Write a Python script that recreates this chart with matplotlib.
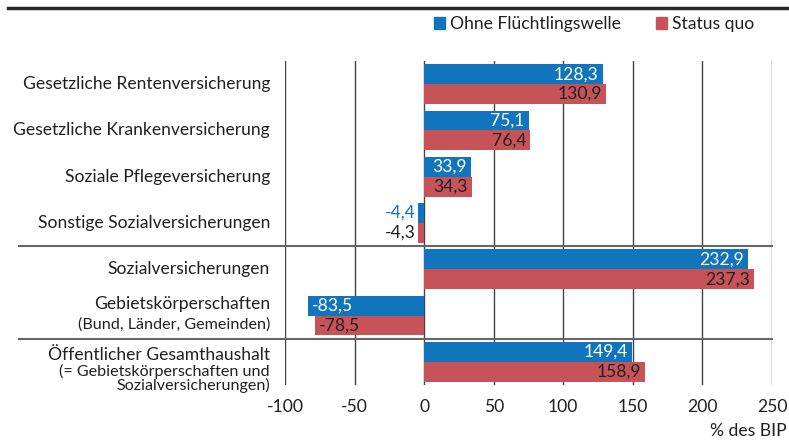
import matplotlib
matplotlib.use("Agg")
import matplotlib.pyplot as plt
import matplotlib.transforms as mtransforms
from matplotlib.lines import Line2D
from matplotlib.patches import Patch
import numpy as np

# --- Daten ---
categories = [
    "Gesetzliche Rentenversicherung",
    "Gesetzliche Krankenversicherung",
    "Soziale Pflegeversicherung",
    "Sonstige Sozialversicherungen",
    "Sozialversicherungen",
    "Gebietskörperschaften",
    "Öffentlicher Gesamthaushalt",
]
sub_labels = ["", "", "", "", "",
              "(Bund, Länder, Gemeinden)",
              "(= Gebietskörperschaften und\nSozialversicherungen)"]
ohne_welle = [128.3, 75.1, 33.9, -4.4, 232.9, -83.5, 149.4]
status_quo = [130.9, 76.4, 34.3, -4.3, 237.3, -78.5, 158.9]
series_names = ["Ohne Flüchtlingswelle", "Status quo"]
xticks = [-100, -50, 0, 50, 100, 150, 200, 250]

BLUE = "#1175BE"
RED = "#C55357"
DARK = "#231F20"

plt.rcParams.update({
    "font.family": ["Lato", "DejaVu Sans"],
    "font.size": 12.6,
    "text.color": DARK,
})

W, H = 789, 441
fig = plt.figure(figsize=(W / 100, H / 100), dpi=100)
ax = fig.add_axes([285 / W, 1 - 385 / H, (772 - 285) / W, (385 - 61) / H])

y = np.arange(len(categories))
bh = 0.43
ax.barh(y - bh / 2, ohne_welle, height=bh, color=BLUE, zorder=3)
ax.barh(y + bh / 2, status_quo, height=bh, color=RED, zorder=3)

ax.set_xlim(-100, 250)
ax.set_ylim(len(categories) - 0.5, -0.5)
ax.set_xticks(xticks)
ax.set_xticklabels([str(t) for t in xticks])
ax.set_yticks([])
for s in ax.spines.values():
    s.set_visible(False)
ax.tick_params(axis="x", length=0, pad=10, labelsize=12.6, colors=DARK)
for t in xticks:
    ax.axvline(t, color="#444444", lw=1, zorder=1)

# Werte an den Balken
def fmt(v):
    return f"{v:.1f}".replace(".", ",")

for yi, vals, inside_col, outside_col in [
        (y - bh / 2, ohne_welle, "white", BLUE),
        (y + bh / 2, status_quo, DARK, DARK)]:
    for yy, v in zip(yi, vals):
        if abs(v) < 20:
            ax.text(v - 1.5, yy, fmt(v), ha="right", va="center",
                    color=outside_col, zorder=4)
        elif v > 0:
            ax.text(v - 3, yy, fmt(v), ha="right", va="center",
                    color=inside_col, zorder=4)
        else:
            ax.text(v + 3, yy, fmt(v), ha="left", va="center",
                    color=inside_col, zorder=4)

# Kategorienbeschriftung links
tr = mtransforms.blended_transform_factory(fig.transFigure, ax.transData)
lx = 270 / W
for i, (cat, sub) in enumerate(zip(categories, sub_labels)):
    if not sub:
        ax.text(lx, i, cat, transform=tr, ha="right", va="center")
    elif i == 5:
        ax.text(lx, i - 0.26, cat, transform=tr, ha="right", va="center")
        ax.text(lx, i + 0.2, sub, transform=tr, ha="right", va="center",
                fontsize=11.6)
    else:
        ax.text(lx, i - 0.15, cat, transform=tr, ha="right", va="center")
        ax.text(lx, i + 0.36, sub, transform=tr, ha="right", va="center",
                fontsize=11.6, linespacing=0.92)

# Trennlinien
for sep in [3.5, 5.5]:
    fig.add_artist(Line2D([19 / W, 772 / W], [sep, sep], transform=tr,
                          color="#666666", lw=1.5, zorder=5))

# obere Linie
fig.add_artist(Line2D([8 / W, 1], [1 - 8 / H, 1 - 8 / H],
                      color="#2a2a2a", lw=2.5))

# Legende
handles = [Patch(color=BLUE), Patch(color=RED)]
fig.legend(handles, series_names, loc="center left", ncol=2,
           bbox_to_anchor=(434 / W, 1 - 24 / H), frameon=False,
           handlelength=0.62, handleheight=0.62, handletextpad=0.3,
           columnspacing=2.0, borderaxespad=0, borderpad=0)

fig.text(1 - 2 / W, 2 / H, "% des BIP", ha="right", va="bottom")

fig.savefig("out.png", dpi=100)
